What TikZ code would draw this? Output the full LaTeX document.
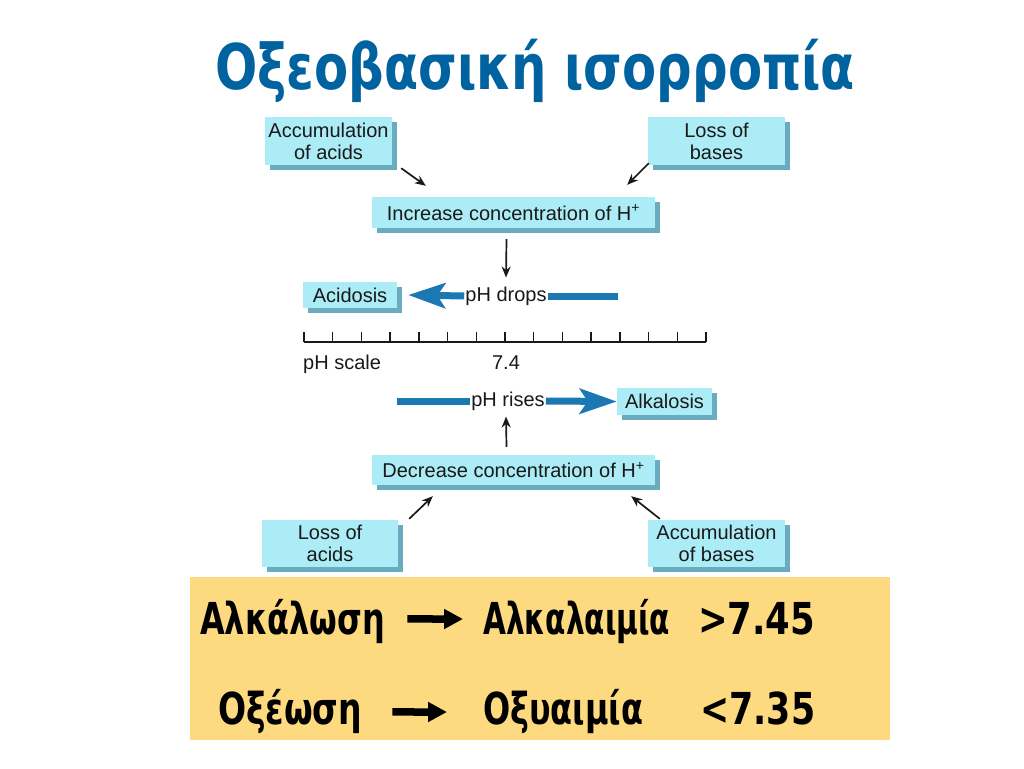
\documentclass[tikz,border=0pt]{standalone}
\usepackage{fontspec}
\setmainfont{Liberation Sans}
\newfontfamily\titlefont{DejaVu Sans}
\usetikzlibrary{arrows.meta,shadows,calc}
\definecolor{boxface}{RGB}{172,236,246}
\definecolor{boxshade}{RGB}{105,172,192}
\definecolor{titleblue}{RGB}{0,99,160}
\definecolor{arrowblue}{RGB}{28,120,178}
\definecolor{panel}{RGB}{253,218,128}
\definecolor{ink}{RGB}{25,25,25}
\tikzset{
  cbox/.style={fill=boxface, text=ink, align=center, inner sep=0pt,
    font=\fontsize{20}{22}\selectfont,
    general shadow={fill=boxshade, shadow xshift=5pt, shadow yshift=-5pt}},
  thin arrow/.style={-{Stealth[length=11pt,width=9pt]}, line width=1.7pt, ink},
  fat arrow/.style={-{Stealth[length=37pt,width=25pt,inset=8pt]}, line width=7pt, arrowblue},
  fat line/.style={line width=7pt, arrowblue},
  plain label/.style={text=ink, inner sep=1pt, font=\fontsize{20}{22}\selectfont},
  big label/.style={text=black, inner sep=0pt, anchor=base west, font=\titlefont\bfseries\fontsize{44}{48}\selectfont},
  black arrow/.style={-{Triangle[length=19pt,width=19pt]}, line width=7.5pt, black},
}
\begin{document}
\begin{tikzpicture}[x=1pt,y=-1pt]
\useasboundingbox (0,0) rectangle (1024,768);
% title
\node[text=titleblue, font=\titlefont\bfseries\fontsize{63}{70}\selectfont, anchor=base, inner sep=0pt] (title) at (535,89) {\resizebox{640pt}{\height}{Οξεοβασική ισορροπία}};
% boxes
\node[cbox, minimum width=127pt, minimum height=48pt] (accA) at (328.5,141) {Accumulation\\of acids};
\node[cbox, minimum width=137pt, minimum height=48pt] (lossB) at (716.5,141) {Loss of\\bases};
\node[cbox, minimum width=283pt, minimum height=31pt] (incH) at (513.5,212.5) {Increase concentration of H\textsuperscript{+}};
\node[cbox, minimum width=94pt, minimum height=26pt] (acid) at (350,295) {Acidosis};
\node[plain label] (drops) at (506,296) {pH drops};
\node[plain label] (rises) at (508,401) {pH rises};
\node[cbox, minimum width=95pt, minimum height=27pt] (alk) at (664.5,401.5) {Alkalosis};
\node[cbox, minimum width=283pt, minimum height=30pt] (decH) at (513.5,470) {Decrease concentration of H\textsuperscript{+}};
\node[cbox, minimum width=136pt, minimum height=47pt] (lossA) at (330,543.5) {Loss of\\acids};
\node[cbox, minimum width=137pt, minimum height=47pt] (accB) at (716.5,543.5) {Accumulation\\of bases};
% thin arrows
\draw[thin arrow] ($(accA.south east)+(9,3)$) -- ($(incH.north west)+(54,-11)$);
\draw[thin arrow] ($(lossB.south west)+(1,-2)$) -- ($(incH.north east)+(-28,-12)$);
\draw[thin arrow] ($(incH.south)+(-7,11)$) -- ($(drops.north)+(0,-8)$);
\draw[thin arrow] ($(decH.north)+(-7,-8)$) -- ($(rises.south)+(-2,5)$);
\draw[thin arrow] ($(lossA.north east)+(11,-1)$) -- ($(decH.south west)+(61,11)$);
\draw[thin arrow] ($(accB.north west)+(12,-1)$) -- ($(decH.south east)+(-24,11)$);
% fat arrows
\draw[fat arrow] (drops.west) -- ($(acid.east)+(11,0)$);
\draw[fat line] (drops.east) -- ++(70,0) coordinate (dropsEnd);
\draw[fat line] (rises.west) -- ++(-73,0) coordinate (risesStart);
\draw[fat arrow] (rises.east) -- (alk.west);
% pH scale
\draw[line width=1.4pt, ink] (304,342) coordinate (scaleL) -- (706,342) coordinate (scaleR);
\foreach \i in {0,...,14} \draw[line width=1.4pt, ink] ($(scaleL)!\i/14!(scaleR)$) -- ++(0,-10);
\node[plain label, anchor=base west] (phs) at (302,369) {pH scale};
\node[plain label, anchor=base] (seven) at (506,369) {7.4};
% bottom panel
\node[fill=panel, minimum width=700pt, minimum height=163pt, inner sep=0pt] (panelbox) at (540,658.5) {};
\node[big label] (alkw) at (200,634) {\resizebox{185pt}{\height}{Αλκάλωση}};
\node[big label] (alkem) at (483,634) {\resizebox{187pt}{\height}{Αλκαλαιμία}};
\node[big label] (gt) at (698,634) {\resizebox{117pt}{\height}{>7.45}};
\node[big label] (oxw) at (218,724) {\resizebox{144pt}{\height}{Οξέωση}};
\node[big label] (oxem) at (483,724) {\resizebox{160pt}{\height}{Οξυαιμία}};
\node[big label] (lt) at (700,724) {\resizebox{115pt}{\height}{<7.35}};
\draw[black arrow] ($(alkw.east)+(22,-2)$) -- ($(alkem.west)+(-20,-2)$);
\draw[black arrow] ($(oxw.east)+(30,1)$) -- ($(oxem.west)+(-36,1)$);
\end{tikzpicture}
\end{document}
